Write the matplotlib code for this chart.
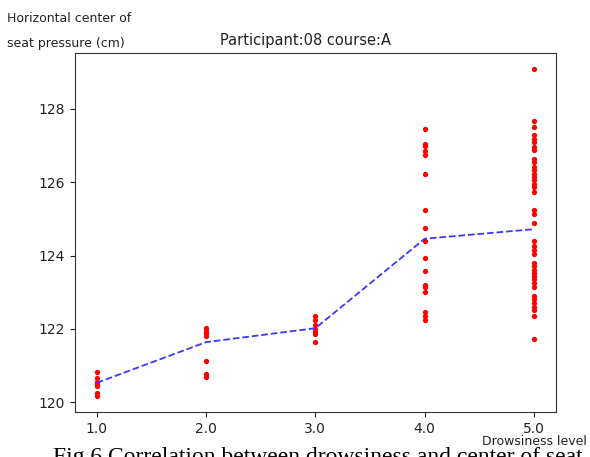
import numpy as np
import matplotlib
matplotlib.use("Agg")
import matplotlib.pyplot as plt

# drowsiness level -> horizontal center of seat pressure (cm)
lv1 = [120.82, 120.65, 120.55, 120.5, 120.45, 120.25, 120.18]
lv2 = [122.02, 121.95, 121.9, 121.8, 121.12, 120.78, 120.7]
lv3 = [122.35, 122.25, 122.1, 122.0, 121.92, 121.85, 121.65]
lv4 = [127.45, 127.05, 126.99, 126.85, 126.73, 126.23, 125.23, 124.76,
       124.41, 123.93, 123.57, 123.2, 123.14, 123.0, 122.47, 122.36, 122.25]
lv5 = [129.08, 127.66, 127.51, 127.28, 127.19, 127.1, 126.96, 126.87,
       126.64, 126.55, 126.42, 126.33, 126.23, 126.14, 126.05, 125.96,
       125.87, 125.73, 125.25, 125.14, 124.9, 124.39, 124.25, 124.14,
       124.03, 123.8, 123.71, 123.62, 123.53, 123.44, 123.35, 123.26,
       123.14, 122.91, 122.82, 122.71, 122.59, 122.52, 122.34, 121.72]
levels = [1.0, 2.0, 3.0, 4.0, 5.0]
mean_line = [120.53, 121.64, 122.02, 124.46, 124.72]

fig = plt.figure(figsize=(5.9, 4.57), dpi=100)
ax = fig.add_axes([0.127, 0.0985, 0.815, 0.7855])

for lv, vals in zip(levels, [lv1, lv2, lv3, lv4, lv5]):
    ax.plot([lv] * len(vals), vals, 'o', color='red', markersize=3.8,
            markeredgewidth=0)
ax.plot(levels, mean_line, '--', color='#3838ff', lw=1.3)

ax.set_xticks(levels)
ax.set_xticklabels(["%.1f" % v for v in levels])
ax.set_yticks([120, 122, 124, 126, 128])
ax.tick_params(labelsize=10, colors='#222222')
for s in ax.spines.values():
    s.set_color('#333333')

fig.text(0.517, 0.912, "Participant:08 course:A", ha='center',
         va='center', fontsize=10.5, color='#222222')
fig.text(0.012, 0.96, "Horizontal center of", ha='left', va='center',
         fontsize=9, color='#222222')
fig.text(0.012, 0.905, "seat pressure (cm)", ha='left', va='center',
         fontsize=9, color='#222222')
fig.text(0.995, 0.033, "Drowsiness level", ha='right', va='center',
         fontsize=9, color='#222222')
fig.text(0.09, 0.022, "Fig.6 Correlation between drowsiness and center of seat",
         ha='left', va='top', fontsize=17, family='Liberation Serif')

fig.savefig("out.png", dpi=100)
